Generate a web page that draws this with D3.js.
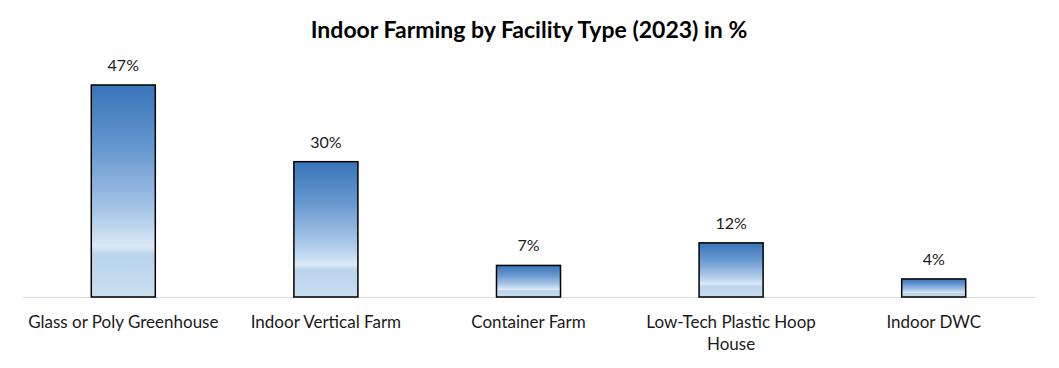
<!DOCTYPE html>
<html>
<head>
<meta charset="utf-8">
<script src="https://cdn.jsdelivr.net/npm/d3@7"></script>
<style>
  body { margin: 0; background: #fff; }
  text { font-family: Lato, "Open Sans", sans-serif; fill: #1a1a1a; }
</style>
</head>
<body>
<div id="chart"></div>
<script>
    var categories = ["Glass or Poly Greenhouse", "Indoor Vertical Farm", "Container Farm", "Low-Tech Plastic Hoop House", "Indoor DWC"];
    var values = [47, 30, 7, 12, 4];
    var valueLabels = ["47%", "30%", "7%", "12%", "4%"];
    // labels wrapped the way the original does it
    var labelLines = [["Glass or Poly Greenhouse"], ["Indoor Vertical Farm"], ["Container Farm"], ["Low-Tech Plastic Hoop", "House"], ["Indoor DWC"]];

    var width = 1059,
        height = 368;

    var svg = d3.select("#chart")
        .append("svg")
        .attr("width", width)
        .attr("height", height);

    var defs = svg.append("defs");
    var grad = defs.append("linearGradient")
        .attr("id", "barGrad")
        .attr("x1", 0).attr("y1", 0)
        .attr("x2", 0).attr("y2", 1);
    var stops = [
        [0, "#3974b9"],
        [0.3, "#6697cf"],
        [0.6, "#a9c7e8"],
        [0.73, "#d0e2f3"],
        [0.76, "#dde9f6"],
        [0.8, "#bad4eb"],
        [1, "#c9def0"]
    ];
    stops.forEach(function(s) {
        grad.append("stop").attr("offset", s[0]).attr("stop-color", s[1]);
    });

    var x = d3.scaleBand()
        .domain(categories)
        .range([22, 1035])
        .paddingInner(0.684)
        .paddingOuter(0.342);

    var y = d3.scaleLinear()
        .domain([0, 47])
        .range([297, 85]);

    // title
    svg.append("text")
        .attr("x", 529)
        .attr("y", 38)
        .attr("text-anchor", "middle")
        .style("font-size", "23px")
        .style("font-weight", "bold")
        .style("fill", "#000")
        .text("Indoor Farming by Facility Type (2023) in %");

    // baseline
    svg.append("line")
        .attr("x1", 22)
        .attr("x2", 1035)
        .attr("y1", y(0) + 0.5)
        .attr("y2", y(0) + 0.5)
        .attr("stroke", "#d9d9d9")
        .attr("stroke-width", 1);

    svg.selectAll(".bar")
        .data(values)
        .enter().append("rect")
        .attr("class", "bar")
        .attr("x", function(d, i) { return x(categories[i]); })
        .attr("y", function(d) { return y(d); })
        .attr("width", x.bandwidth())
        .attr("height", function(d) { return y(0) - y(d); })
        .attr("fill", "url(#barGrad)")
        .attr("stroke", "#000")
        .attr("stroke-width", 1.5);

    svg.selectAll(".val")
        .data(values)
        .enter().append("text")
        .attr("class", "val")
        .attr("x", function(d, i) { return x(categories[i]) + x.bandwidth() / 2; })
        .attr("y", function(d) { return y(d) - 14; })
        .attr("text-anchor", "middle")
        .style("font-size", "16px")
        .text(function(d, i) { return valueLabels[i]; });

    var cat = svg.selectAll(".cat")
        .data(categories)
        .enter().append("text")
        .attr("class", "cat")
        .attr("x", function(d) { return x(d) + x.bandwidth() / 2; })
        .attr("y", 328)
        .attr("text-anchor", "middle")
        .style("font-size", "17px");

    cat.each(function(d, i) {
        var t = d3.select(this);
        labelLines[i].forEach(function(line, j) {
            t.append("tspan")
                .attr("x", x(d) + x.bandwidth() / 2)
                .attr("dy", j === 0 ? 0 : 22)
                .text(line);
        });
    });
</script>
</body>
</html>
